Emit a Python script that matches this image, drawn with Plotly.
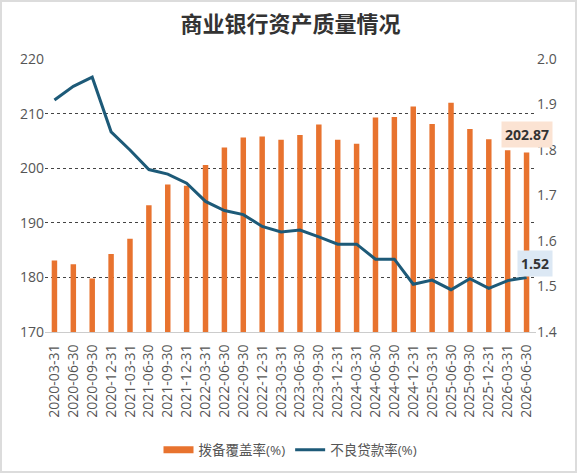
import plotly.graph_objects as go

dates = ["2020-03-31", "2020-06-30", "2020-09-30", "2020-12-31",
         "2021-03-31", "2021-06-30", "2021-09-30", "2021-12-31",
         "2022-03-31", "2022-06-30", "2022-09-30", "2022-12-31",
         "2023-03-31", "2023-06-30", "2023-09-30", "2023-12-31",
         "2024-03-31", "2024-06-30", "2024-09-30", "2024-12-31",
         "2025-03-31", "2025-06-30", "2025-09-30", "2025-12-31",
         "2026-03-31", "2026-06-30"]

coverage = [183.1, 182.4, 179.8, 184.3, 187.1, 193.2, 197.0, 196.8,
            200.6, 203.8, 205.6, 205.8, 205.2, 206.1, 208.0, 205.2,
            204.5, 209.3, 209.4, 211.3, 208.1, 212.0, 207.2, 205.3,
            203.3, 202.87]

npl = [1.91, 1.94, 1.96, 1.84, 1.80, 1.757, 1.747, 1.727,
       1.687, 1.667, 1.658, 1.632, 1.62, 1.624, 1.609, 1.593,
       1.593, 1.56, 1.56, 1.505, 1.514, 1.493, 1.517, 1.496,
       1.513, 1.52]

ORANGE = "#e8732f"
BLUE = "#1d5a78"
FONT = "Open Sans, Noto Sans CJK SC, sans-serif"

fig = go.Figure()
fig.add_trace(go.Bar(x=dates, y=coverage, name="拨备覆盖率(%)",
                     marker=dict(color=ORANGE, line=dict(width=0)),
                     width=0.29, yaxis="y", showlegend=False))
fig.add_trace(go.Scatter(x=dates, y=npl, name="不良贷款率(%)", mode="lines",
                         line=dict(color=BLUE, width=3), yaxis="y2",
                         showlegend=False))
# legend entries (bar shown as wide rectangle, like the reference)
fig.add_trace(go.Scatter(x=[None], y=[None], name="拨备覆盖率(%)", mode="lines",
                         line=dict(color=ORANGE, width=7), yaxis="y"))
fig.add_trace(go.Scatter(x=[None], y=[None], name="不良贷款率(%)", mode="lines",
                         line=dict(color=BLUE, width=3), yaxis="y2"))

W, H = 577, 473
ml, mr, mt, mb = 45, 41, 59, 141
pw, ph = W - ml - mr, H - mt - mb

fig.update_layout(
    width=W, height=H,
    margin=dict(l=ml, r=mr, t=mt, b=mb, autoexpand=False),
    paper_bgcolor="white", plot_bgcolor="white",
    font=dict(family=FONT, color="#555"),
    title=dict(text="<b>商业银行资产质量情况</b>", x=0.5, xref="paper",
               xanchor="center", y=1 - 24 / H, yanchor="middle",
               font=dict(family="Noto Sans CJK SC, sans-serif", size=22, color="#333")),
    xaxis=dict(type="category", tickangle=-90, showgrid=False,
               showline=True, linecolor="#cccccc", linewidth=1,
               ticks="", tickfont=dict(size=14, color="#555"),
               ticklabelstandoff=6,
               range=[-0.5, len(dates) - 0.5], automargin=False),
    yaxis=dict(range=[170, 220], dtick=10, showgrid=True, gridcolor="#444",
               griddash="3px,3px", gridwidth=1, zeroline=False, ticks="",
               tickfont=dict(size=14, color="#555"), showline=False,
               automargin=False),
    yaxis2=dict(range=[1.4, 2.0], dtick=0.1, overlaying="y", side="right",
                showgrid=False, zeroline=False, ticks="", tickformat=".1f",
                tickfont=dict(size=14, color="#555"), automargin=False),
    legend=dict(orientation="h", x=0.5, xanchor="center",
                y=-118 / ph, yanchor="middle",
                font=dict(size=13.5, color="#555"), itemwidth=30,
                tracegroupgap=0),
    showlegend=True,
)

fig.add_annotation(x=dates[-1], y=coverage[-1], xref="x", yref="y",
                   text="<b>202.87</b>", showarrow=False, yshift=18, xshift=0,
                   bgcolor="#fbe3d3", font=dict(size=14, color="#333"),
                   borderpad=3)
fig.add_annotation(x=dates[-1], y=npl[-1], xref="x", yref="y2",
                   text="<b>1.52</b>", showarrow=False, yshift=14, xshift=8,
                   bgcolor="#dce8f4", font=dict(size=14, color="#333"),
                   borderpad=3)

fig.add_shape(type="rect", xref="paper", yref="paper",
              x0=-(ml - 1) / pw, x1=1 + (mr - 1) / pw,
              y0=-(mb - 1) / ph, y1=1 + (mt - 1) / ph,
              line=dict(color="#dcdcdc", width=2), layer="below")

fig.write_html("out.html", config={"displayModeBar": False})

# remove the default 8px page margin so the figure sits at the window origin
with open("out.html", "r", encoding="utf-8") as f:
    html = f.read()
html = html.replace("<body>", '<body style="margin:0;overflow:hidden">', 1)
with open("out.html", "w", encoding="utf-8") as f:
    f.write(html)
